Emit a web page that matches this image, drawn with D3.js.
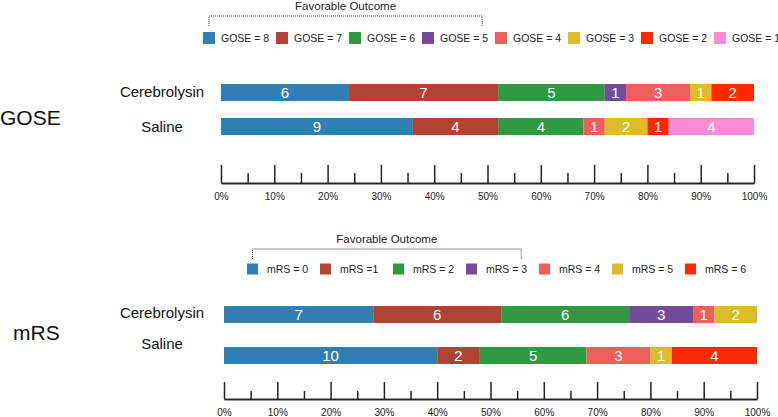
<!DOCTYPE html>
<html>
<head>
<meta charset="utf-8">
<script src="https://cdn.jsdelivr.net/npm/d3@7"></script>
<style>
  body { margin: 0; background: #fff; }
  svg { display: block; font-family: "Helvetica Neue", Helvetica, Arial, "Liberation Sans", sans-serif; }
</style>
</head>
<body>
<svg id="chart" width="778" height="417"></svg>
<script>
// data (patient counts per outcome category)
const groups = ["Cerebrolysin", "Saline"];

const goseCats = ["GOSE = 8", "GOSE = 7", "GOSE = 6", "GOSE = 5", "GOSE = 4", "GOSE = 3", "GOSE = 2", "GOSE = 1"];
const goseCerebrolysin = [6, 7, 5, 1, 3, 1, 2, 0];
const goseSaline = [9, 4, 4, 0, 1, 2, 1, 4];

const mrsCats = ["mRS = 0", "mRS =1", "mRS = 2", "mRS = 3", "mRS = 4", "mRS = 5", "mRS = 6"];
const mrsCerebrolysin = [7, 6, 6, 3, 1, 2, 0];
const mrsSaline = [10, 2, 5, 0, 3, 1, 4];

const majorTicks = [0, 10, 20, 30, 40, 50, 60, 70, 80, 90, 100];
const minorTicks = [5, 15, 25, 35, 45, 55, 65, 75, 85, 95];
const favorableLabel = "Favorable Outcome";

const palette = ["#2f7fb5", "#b24332", "#2f9a41", "#744a9a", "#ec5f5a", "#debb28", "#fd2a00", "#fd8bd6"];

const svg = d3.select("#chart");

function drawPanel(cfg) {
  const g = svg.append("g");
  const x = d3.scaleLinear().domain([0, 100]).range(cfg.xRange);
  const color = d3.scaleOrdinal().domain(cfg.cats).range(palette);

  // table for d3.stack
  const table = groups.map((grp, i) => {
    const row = { group: grp };
    cfg.cats.forEach((c, j) => { row[c] = cfg.values[i][j]; });
    return row;
  });
  const series = d3.stack().keys(cfg.cats).offset(d3.stackOffsetExpand)(table);

  const y = d3.scaleOrdinal().domain(groups).range(cfg.rowY);

  // title
  g.append("text")
    .attr("x", cfg.titleX).attr("y", cfg.titleY)
    .attr("dy", "0.35em")
    .attr("font-size", 21).attr("fill", "#111")
    .text(cfg.title);

  // row labels
  g.selectAll(".rowlab").data(groups).enter().append("text")
    .attr("x", 162)
    .attr("y", (d, i) => cfg.labelY[i])
    .attr("dy", "0.35em")
    .attr("text-anchor", "middle")
    .attr("font-size", 15).attr("fill", "#111")
    .text(d => d);

  // bars
  const layer = g.selectAll(".layer").data(series).enter().append("g")
    .attr("fill", d => color(d.key));
  layer.selectAll("rect").data(d => d).enter().append("rect")
    .attr("x", d => x(d[0] * 100))
    .attr("y", d => y(d.data.group))
    .attr("width", d => x(d[1] * 100) - x(d[0] * 100))
    .attr("height", cfg.barH);

  layer.selectAll("text").data(d => d.map(p => ({ p: p, key: d.key }))).enter()
    .filter(d => d.p.data[d.key] > 0)
    .append("text")
    .attr("x", d => (x(d.p[0] * 100) + x(d.p[1] * 100)) / 2)
    .attr("y", d => y(d.p.data.group) + cfg.barH / 2)
    .attr("dy", "0.36em")
    .attr("text-anchor", "middle")
    .attr("font-size", 15)
    .attr("fill", "#fff")
    .text(d => d.p.data[d.key]);

  // legend
  const leg = g.selectAll(".leg").data(cfg.cats).enter().append("g")
    .attr("transform", (d, i) => "translate(" + (cfg.legX + i * cfg.legStep) + "," + cfg.legY + ")");
  leg.append("rect")
    .attr("x", 0).attr("y", -cfg.sq / 2)
    .attr("width", cfg.sq).attr("height", cfg.sq)
    .attr("fill", d => color(d));
  const legText = leg.append("text")
    .attr("x", cfg.legOff).attr("y", 0)
    .attr("dy", "0.35em")
    .attr("font-size", 10.5).attr("fill", "#222")
    .text(d => d);

  // "favorable" bracket over the first four categories
  const bx0 = cfg.legX + cfg.sq / 2;
  const lastNode = legText.nodes()[3];
  const bx1 = cfg.legX + 3 * cfg.legStep + cfg.legOff + lastNode.getComputedTextLength() - 6;
  g.append("path")
    .attr("d", "M" + bx0 + "," + cfg.brBottom + "V" + cfg.brTop + "H" + bx1 + "V" + cfg.brBottom)
    .attr("fill", "none")
    .attr("stroke", "#333")
    .attr("stroke-width", 1)
    .attr("stroke-dasharray", "1,1");
  g.append("text")
    .attr("x", (bx0 + bx1) / 2).attr("y", cfg.brTop - 6)
    .attr("text-anchor", "middle")
    .attr("font-size", 11.5).attr("fill", "#222")
    .text(favorableLabel);

  // axis: tall major ticks, short minor ticks, labels below
  const major = g.append("g")
    .attr("transform", "translate(0," + cfg.axisY + ")")
    .call(d3.axisBottom(x).tickValues(majorTicks).tickSize(-cfg.majorLen).tickSizeOuter(0)
      .tickPadding(10).tickFormat(d => d + "%"));
  const minor = g.append("g")
    .attr("transform", "translate(0," + cfg.axisY + ")")
    .call(d3.axisBottom(x).tickValues(minorTicks).tickSize(-cfg.minorLen).tickSizeOuter(0).tickFormat(""));
  [major, minor].forEach(a => {
    a.selectAll("path, line").attr("stroke", "#222").attr("stroke-width", 1.5);
    a.selectAll("text").attr("font-size", 10).attr("fill", "#222")
      .attr("font-family", "\"Helvetica Neue\", Helvetica, Arial, \"Liberation Sans\", sans-serif");
  });
}

drawPanel({
  title: "GOSE", titleX: 0, titleY: 118,
  cats: goseCats, values: [goseCerebrolysin, goseSaline],
  xRange: [221, 754], rowY: [84, 118], labelY: [92, 127], barH: 17,
  legX: 203, legStep: 73, legY: 38, legOff: 18, sq: 12,
  brTop: 16, brBottom: 26,
  axisY: 183, majorLen: 18, minorLen: 10
});

drawPanel({
  title: "mRS", titleX: 13, titleY: 333,
  cats: mrsCats, values: [mrsCerebrolysin, mrsSaline],
  xRange: [224, 757], rowY: [306, 347], labelY: [313, 344], barH: 17,
  legX: 247, legStep: 73, legY: 269, legOff: 20, sq: 11,
  brTop: 249, brBottom: 259,
  axisY: 399, majorLen: 17, minorLen: 8
});
</script>
</body>
</html>
